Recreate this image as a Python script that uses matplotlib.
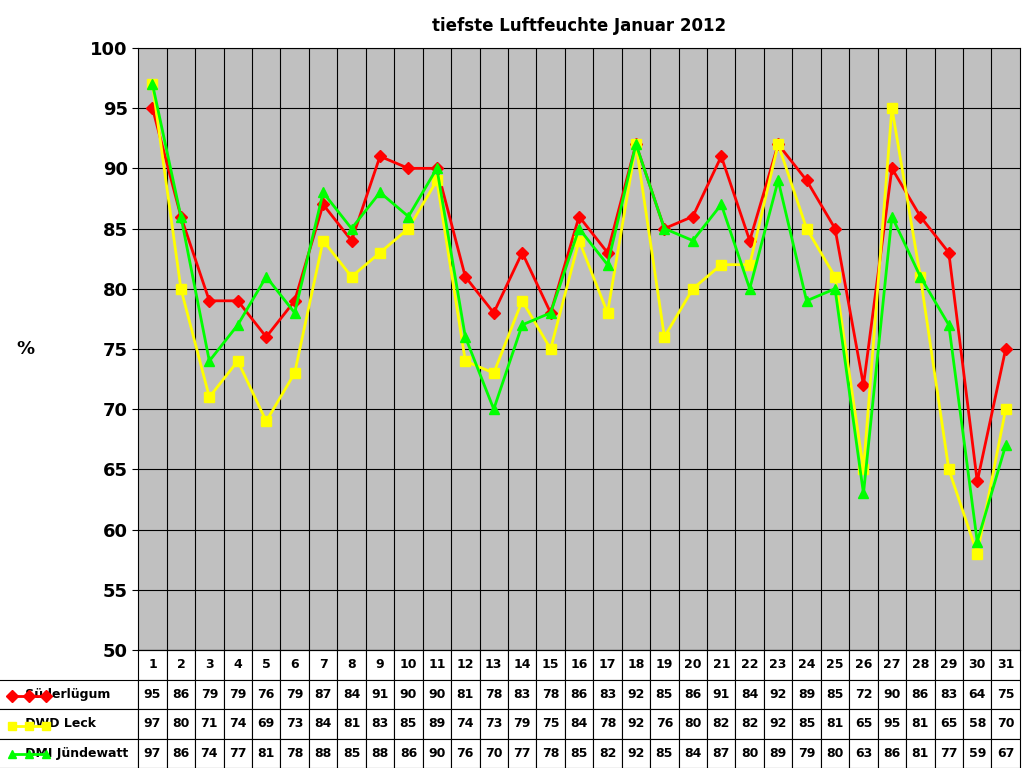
import matplotlib
matplotlib.use("Agg")
import matplotlib.pyplot as plt
from matplotlib.lines import Line2D
import numpy as np

days = list(range(1, 32))
sued = [95,86,79,79,76,79,87,84,91,90,90,81,78,83,78,86,83,92,85,86,91,84,92,89,85,72,90,86,83,64,75]
leck = [97,80,71,74,69,73,84,81,83,85,89,74,73,79,75,84,78,92,76,80,82,82,92,85,81,65,95,81,65,58,70]
juen = [97,86,74,77,81,78,88,85,88,86,90,76,70,77,78,85,82,92,85,84,87,80,89,79,80,63,86,81,77,59,67]
names = ["Süderlügum", "DWD Leck", "DMI Jündewatt"]
colors = ["#ff0000", "#ffff00", "#00ff00"]
markers = ["D", "s", "^"]

fig = plt.figure(figsize=(10.24, 7.68), dpi=100)
ax = fig.add_axes([0.135, 0.1536, 0.861, 0.784])
ax.set_facecolor("#c0c0c0")
x = np.array(days)
for vals, c, m, n in zip([sued, leck, juen], colors, markers, names):
    ax.plot(x, vals, color=c, marker=m, lw=2, ms=7 if m != "D" else 6, label=n, zorder=3)
ax.set_xlim(0.5, 31.5)
ax.set_ylim(50, 100)
ax.set_yticks(range(50, 101, 5))
ax.set_xticks(np.arange(1.5, 31, 1))
ax.tick_params(axis="x", length=0, labelbottom=False)
ax.tick_params(axis="y", labelsize=13, length=4)
for lab in ax.get_yticklabels():
    lab.set_fontweight("bold")
ax.grid(True, color="black", lw=0.8)
ax.set_axisbelow(True)
for s in ax.spines.values():
    s.set_color("black")
ax.set_title("tiefste Luftfeuchte Januar 2012", fontsize=12, fontweight="bold", pad=12)
fig.text(0.016, 0.545, "%", fontsize=13, fontweight="bold", va="center")

cell = [[str(v) for v in row] for row in [sued, leck, juen]]
tbl = ax.table(cellText=cell, colLabels=[str(d) for d in days],
               rowLabels=["      " + n for n in names], rowLoc="left",
               cellLoc="center", bbox=[0, -0.196, 1, 0.196])
tbl.auto_set_font_size(False)
tbl.set_fontsize(9)
for (r, c), cl in tbl.get_celld().items():
    cl.set_linewidth(0.8)
    cl.get_text().set_fontweight("bold")
    if c == -1:
        cl.set_width(cl.get_width())
# legend markers in row labels
fig.canvas.draw()
rowy = [1 - 696/768, 1 - 726/768, 1 - 754/768]
for yy, c, m in zip(rowy, colors, markers):
    fig.add_artist(Line2D([0.012, 0.045], [yy, yy], transform=fig.transFigure,
                          color=c, marker=m, markevery=[1] if False else None, lw=2))
    fig.add_artist(Line2D([0.0285], [yy], transform=fig.transFigure, color=c,
                          marker=m, ms=6, lw=0))
fig.savefig("out.png")
